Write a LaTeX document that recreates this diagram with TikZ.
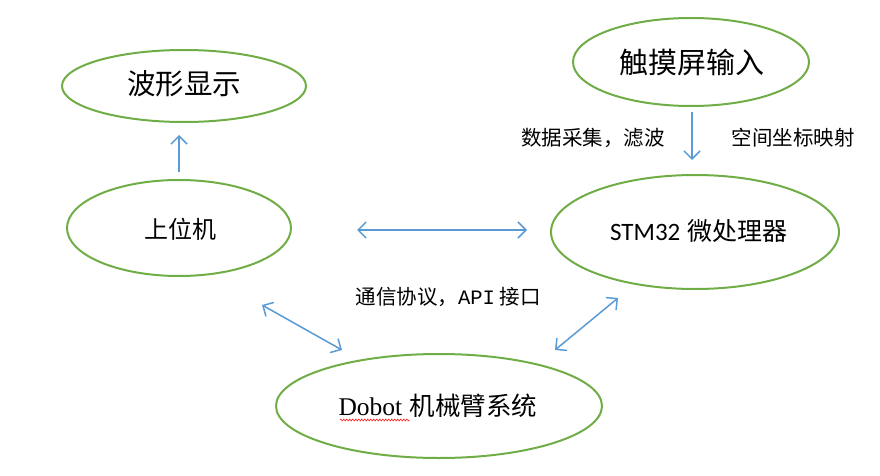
\documentclass[tikz,border=0pt]{standalone}
\usepackage{fontspec}
\newfontfamily\cjk{Noto Sans CJK SC}
\newfontfamily\lsans{Carlito}
\newfontfamily\lserif{Liberation Serif}
\newfontfamily\lmono{Liberation Mono}
\usetikzlibrary{arrows.meta,shapes.geometric,decorations.pathmorphing}
\definecolor{eg}{RGB}{112,173,71}
\definecolor{ab}{RGB}{91,155,213}
\begin{document}
\begin{tikzpicture}[x=1pt,y=-1pt,
  ell/.style={draw=eg,line width=2pt,ellipse,inner sep=0pt},
  arr/.style={draw=ab,line width=1.5pt,-{Straight Barb[length=8pt,width=16pt]}},
  darr/.style={draw=ab,line width=1.5pt,{Straight Barb[length=8pt,width=16pt]}-{Straight Barb[length=8pt,width=16pt]}},
  lab/.style={font=\cjk\fontsize{20.5}{22}\selectfont,inner sep=0pt}]
\useasboundingbox (0,0) rectangle (880,476);
\node[ell,minimum width=244pt,minimum height=72pt] (wave) at (184,86) {};
\node[font=\cjk\fontsize{28.5}{30}\selectfont] at (184,84) {波形显示};
\node[ell,minimum width=236pt,minimum height=88pt] (touch) at (691,62) {};
\node[font=\cjk\fontsize{29}{30}\selectfont] at (692,62) {触摸屏输入};
\node[ell,minimum width=224pt,minimum height=96pt] (pc) at (179,228) {};
\node[font=\cjk\fontsize{24}{26}\selectfont] at (180,229) {上位机};
\node[ell,minimum width=288pt,minimum height=114pt] (stm) at (695,232) {};
\node[font=\fontsize{25}{28}\selectfont] at (699,231) {{\lsans STM32} {\cjk 微处理器}};
\node[ell,minimum width=326pt,minimum height=104pt] (dobot) at (439,406) {};
\node[font=\fontsize{25.5}{28}\selectfont] (dt) at (438,406) {{\lserif Dobot} {\cjk 机械臂系统}};
\draw[red,line width=0.5pt,decorate,decoration={zigzag,amplitude=1pt,segment length=3pt}] (340,420) -- (410,420);
\coordinate (a1s) at (179,172); \coordinate (a1e) at (179,135);
\draw[arr] (a1s) -- (a1e);
\coordinate (a2s) at (692,112); \coordinate (a2e) at (692,160);
\draw[arr] (a2s) -- (a2e);
\coordinate (h1) at (357,230); \coordinate (h2) at (527,230);
\draw[darr] (h1) -- (h2);
\coordinate (d1) at (262,305); \coordinate (d2) at (342,350);
\draw[darr] (d1) -- (d2);
\coordinate (e1) at (555,350); \coordinate (e2) at (618,298);
\draw[darr] (e1) -- (e2);
\node[lab] (l1) at (593,138) {数据采集，滤波};
\node[lab] (l2) at (793,138) {空间坐标映射};
\node[lab] (l3) at (448,297) {通信协议，{\lmono API} 接口};
\end{tikzpicture}
\end{document}
